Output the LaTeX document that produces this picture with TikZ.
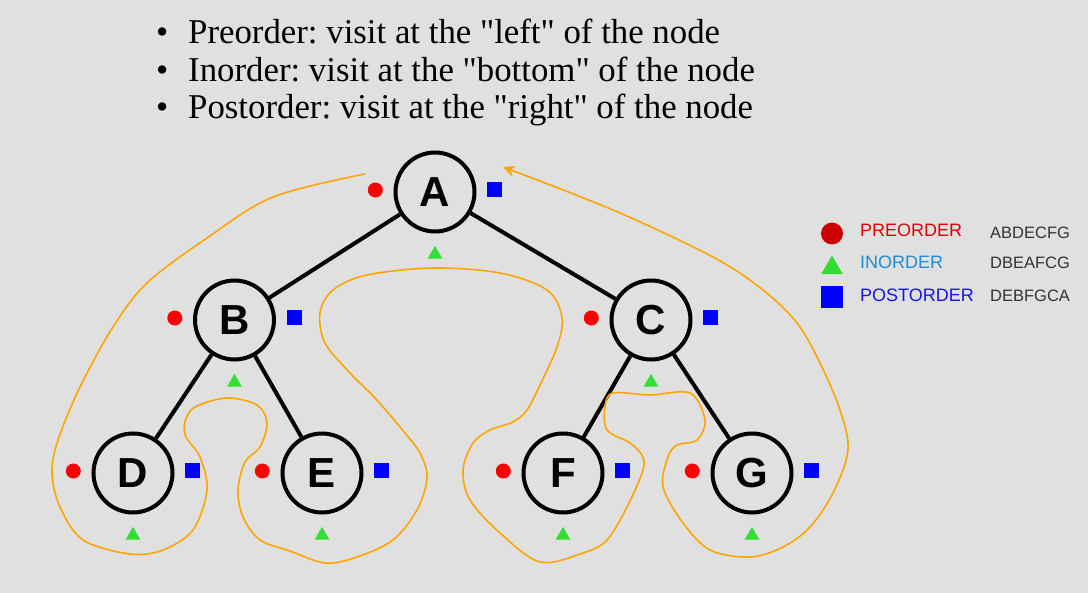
\documentclass[tikz,border=0pt]{standalone}
\usepackage{fontspec}
\setmainfont{Liberation Serif}[Ligatures=TeXOff]
\newfontfamily\arialfont{Liberation Sans}
\usetikzlibrary{arrows.meta,positioning,shapes.geometric}
\definecolor{slidegray}{HTML}{E0E0E0}
\definecolor{prered}{HTML}{FF0000}
\definecolor{keyred}{HTML}{CC0000}
\definecolor{ingreen}{HTML}{33DD33}
\definecolor{postblue}{HTML}{0000FF}
\definecolor{txtred}{HTML}{E00000}
\definecolor{txtsky}{HTML}{1E8CDC}
\definecolor{txtblue}{HTML}{1414F0}
\definecolor{walkorange}{HTML}{FFA500}
\definecolor{seqgray}{HTML}{333333}
\frenchspacing

\begin{document}
\begin{tikzpicture}[
  x=1pt,y=-1pt,
  vertex/.style={circle,draw=black,line width=4pt,minimum size=79pt,inner sep=0pt,font=\arialfont\bfseries\fontsize{42}{42}\selectfont},
  edge/.style={line width=4pt},
  pre/.style={circle,fill=prered,minimum size=15pt,inner sep=0pt},
  post/.style={rectangle,fill=postblue,minimum size=15pt,inner sep=0pt},
  ino/.style={regular polygon,regular polygon sides=3,fill=ingreen,minimum size=17pt,inner sep=0pt},
  walk/.style={draw=walkorange,line width=1.6pt},
  rule/.style={anchor=base west,inner sep=0pt,font=\fontsize{34.8}{37.5}\selectfont},
  keytext/.style={anchor=west,inner sep=0pt,font=\arialfont\fontsize{18}{18}\selectfont},
  seqtext/.style={anchor=west,inner sep=0pt,text=seqgray,font=\arialfont\fontsize{16.5}{16.5}\selectfont}
]
\fill[slidegray] (0,0) rectangle (1088,593);
\useasboundingbox (0,0) rectangle (1088,593);

\node[rule] (lpre) at (156,43.3) {\makebox[32pt][l]{\textbullet}Preorder: visit at the "left" of the node};
\node[rule] (lin) at (156,81.3) {\makebox[32pt][l]{\textbullet}Inorder: visit at the "bottom" of the node};
\node[rule] (lpost) at (156,118.3) {\makebox[32pt][l]{\textbullet}Postorder: visit at the "right" of the node};

\node[vertex] (A) at (435,192) {A};
\node[vertex] (B) at (234.5,320) {B};
\node[vertex] (C) at (651,320) {C};
\node[vertex] (D) at (133,473) {D};
\node[vertex] (E) at (322,473) {E};
\node[vertex] (F) at (563,473) {F};
\node[vertex] (G) at (752,473) {G};
\draw[edge] (A) -- (B);
\draw[edge] (A) -- (C);
\draw[edge] (B) -- (D);
\draw[edge] (B) -- (E);
\draw[edge] (C) -- (F);
\draw[edge] (C) -- (G);

\foreach \v in {A,B,C,D,E,F,G}{
  \node[pre,left=10.5pt of \v,yshift=2pt] (\v pre) {};
  \node[post,right=10.5pt of \v,yshift=2pt] (\v post) {};
  \node[ino,below=12pt of \v] (\v in) {};
}

\draw[walk,-{Stealth[length=12pt,width=11pt]}] plot[smooth,tension=0.55] coordinates {
  (365,174) (273,197) (207,238) (147,283) (113,327) (80,387) (58,440) (52,473)
  (60,507) (83,540) (130,554) (163,550) (193,530) (207,490) (200,457) (186,437)
  (185,422) (195,407) (227,398) (257,405) (267,423) (260,447) (245,462) (238,490)
  (243,517) (260,540) (290,551) (325,563) (357,557) (393,540) (417,510) (427,478)
  (420,453) (400,427) (375,398) (350,373) (325,343) (320,313) (333,290) (367,275)
  (433,268) (500,273) (547,290) (562,317) (557,347) (540,385) (527,410) (513,422)
  (490,430) (473,443) (463,470) (470,500) (500,533) (540,562) (583,553) (607,540)
  (627,507) (642,473) (643,457) (630,443) (607,430) (605,407) (613,393) (650,395)
  (690,393) (705,420) (697,440) (677,445) (668,457) (663,487) (683,523) (710,550)
  (750,557) (783,547) (810,527) (833,493) (848,450) (840,410) (820,363) (797,323)
  (763,290) (713,257) (613,210) (503,167)};

\node[pre,fill=keyred,minimum size=22pt] (kpre) at (832,233.5) {};
\node[ino,minimum size=25pt] (kin) at (832,268) {};
\node[post,minimum size=22pt] (kpost) at (832,297) {};
\node[keytext,text=txtred] (tpre) at (860,230) {PREORDER};
\node[keytext,text=txtsky] (tin) at (860,262.5) {INORDER};
\node[keytext,text=txtblue] (tpost) at (860,295) {POSTORDER};
\node[seqtext] (spre) at (990,232.5) {ABDECFG};
\node[seqtext] (sin) at (990,262.5) {DBEAFCG};
\node[seqtext] (spost) at (990,296) {DEBFGCA};
\end{tikzpicture}
\end{document}
